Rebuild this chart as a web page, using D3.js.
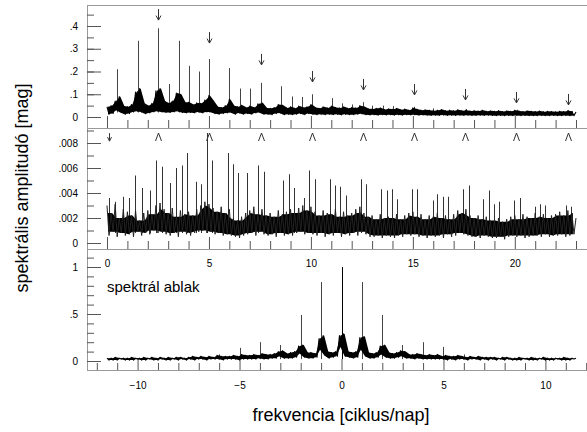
<!doctype html>
<html>
<head>
<meta charset="utf-8">
<script src="https://cdn.jsdelivr.net/npm/d3@7"></script>
<style>
  body { margin: 0; background: #fff; }
  svg text { font-family: "Liberation Sans", Arial, sans-serif; fill: #000; }
</style>
</head>
<body>
<svg id="chart" width="587" height="432"></svg>
<script>
// ---------- data ----------
// top: amplitude spectrum, one value every 0.1 c/d from 0 to 23, in 0.001 mag
var topSpec = [
  45,12,50,15,70,30,90,20,48,12,
  45,15,55,22,110,25,125,22,60,14,
  50,18,60,22,115,25,125,22,70,20,
  60,20,70,22,105,25,100,20,65,18,
  65,20,55,18,62,22,60,18,75,22,
  95,22,70,15,45,12,42,15,50,18,
  78,20,50,12,45,18,52,12,42,15,
  48,12,42,18,58,20,62,12,40,12,
  38,10,42,15,55,18,52,10,40,12,
  45,10,38,12,48,15,42,10,45,15,
  55,12,42,10,38,12,45,10,40,12,
  48,10,42,12,40,9,45,12,38,10,
  42,10,40,12,50,14,45,10,36,9,
  35,10,38,8,40,10,33,9,36,10,
  34,8,38,10,32,8,35,10,30,9,
  40,10,34,8,30,9,32,8,30,7,
  28,8,30,7,33,9,28,7,30,8,
  27,7,32,8,28,7,30,8,26,7,
  28,7,26,8,30,7,25,8,27,7,
  25,6,28,7,24,6,27,7,25,6,
  30,7,26,6,24,7,27,6,25,6,
  24,6,26,7,23,6,25,6,24,7,
  23,6,25,6,24,7,28,6,24,6,22
];
var topPeaks = [
  [0.51,0.21],[1.50,0.335],[2.51,0.39],[3.03,0.145],[3.52,0.335],[4.03,0.225],
  [4.52,0.2],[5.02,0.255],[6.0,0.215],[6.52,0.125],[7.02,0.125],[7.53,0.15],
  [8.52,0.135],[9.05,0.09],[9.54,0.088],[10.04,0.1],[11.05,0.083],[11.54,0.06],
  [12.03,0.055],[12.55,0.065],[13.0,0.05],[13.55,0.05],[14.05,0.048],[15.06,0.045],
  [16.0,0.038],[17.6,0.035],[20.1,0.032],[22.6,0.03]
];
var harmFreq = [2.51,5.02,7.53,10.04,12.55,15.06,17.57,20.08,22.59];
var topArrowTip = [0.426,0.325,0.229,0.154,0.119,0.097,0.075,0.062,0.053];

// middle: residual spectrum, every 0.1 c/d from 0 to 23, in 0.0001 mag
var midSpec = [
  30,6,24,9,31,5,20,8,27,6,
  25,7,22,5,26,9,18,6,24,8,
  26,7,23,10,30,8,32,9,27,7,
  24,6,28,8,21,5,26,9,23,7,
  25,6,22,8,27,9,30,10,33,8,
  31,9,28,7,25,8,29,6,24,7,
  27,6,20,5,18,4,21,6,24,7,
  26,8,29,6,23,9,27,7,22,6,
  24,7,21,5,26,8,23,6,25,7,
  27,6,24,8,28,9,30,7,26,8,
  29,7,25,6,22,8,26,5,24,7,
  23,6,27,8,21,5,25,7,22,6,
  24,8,27,6,29,9,24,7,21,5,
  22,5,19,6,23,4,20,6,21,5,
  20,4,23,6,19,5,22,7,24,6,
  25,7,21,5,23,6,19,4,22,6,
  21,5,24,6,20,4,22,7,19,5,
  23,6,26,8,24,7,27,6,22,5,
  20,5,22,4,19,6,21,5,18,4,
  18,4,20,5,17,3,19,5,21,6,
  22,5,19,6,23,4,21,5,20,6,
  24,6,21,5,23,7,20,5,22,6,
  23,6,25,7,22,5,26,6,24,7,20
];
var midPeaks = [
  [0.1,.0036],[0.4,.0033],[0.8,.0037],[1.1,.0036],[1.37,.0054],[1.7,.0044],[2.1,.0042],
  [2.39,.0066],[2.68,.0061],[3.1,.0048],[3.37,.006],[3.66,.0062],[3.91,.0072],[4.35,.0049],
  [4.6,.0047],[4.89,.0088],[5.16,.0066],[5.92,.0072],[6.2,.0063],[6.4,.0056],[6.88,.0056],
  [7.39,.0062],[7.7,.0057],[8.65,.005],[8.93,.0055],[9.17,.0044],[9.68,.0036],[9.92,.0058],
  [10.2,.0051],[10.94,.0051],[11.18,.0046],[11.43,.0045],[11.7,.0038],[12.44,.0051],
  [12.7,.0047],[13.42,.0043],[13.71,.0042],[13.96,.0043],[14.2,.0035],[14.94,.0043],
  [15.22,.0043],[15.97,.0034],[16.2,.0039],[16.46,.0037],[16.74,.0037],[17.44,.0043],
  [17.74,.0046],[18.46,.0035],[18.73,.0042],[19.0,.0031],[19.24,.0033],[19.97,.0034],
  [20.25,.0036],[20.99,.0029],[21.24,.0031],[21.5,.003],[22.51,.003],[22.76,.0029]
];
var midArrowFreq = [0.12];

// bottom: spectral window, every 0.1 c/d from -11.5 to 11.5, in 0.01
var winSpec = [
  3,1,3,1,4,1,3,2,3,1,
  3,1,4,1,3,2,3,1,4,1,
  3,2,4,1,3,1,4,2,3,1,
  4,1,3,2,4,1,4,2,3,1,
  4,2,5,1,4,2,5,2,4,1,
  5,2,4,2,6,2,5,1,5,2,
  5,2,6,2,5,1,7,2,6,2,
  6,2,7,2,6,3,8,2,7,2,
  7,3,8,3,10,5,11,3,8,3,
  9,3,10,4,16,8,17,4,9,3,
  9,3,8,4,24,12,27,6,10,3,
  9,4,10,5,27,15,29,5,10,4,
  9,3,10,4,25,12,26,5,9,3,
  8,3,9,4,16,7,17,4,9,3,
  8,3,9,4,11,5,10,3,7,3,
  7,2,8,3,7,2,6,2,7,2,
  6,2,7,2,5,2,6,1,5,2,
  5,1,6,2,5,2,4,1,5,2,
  4,2,5,1,4,2,4,1,4,2,
  4,1,3,2,4,1,4,2,3,1,
  3,1,4,1,3,2,3,1,4,1,
  3,1,3,2,4,1,3,1,3,1,
  3,2,3,1,4,1,3,1,3,2,3
];
var winPeaks = [
  [0,1.0],[-1,.84],[1,.84],[-2,.49],[2,.49],[-3.03,.17],[2.98,.17],
  [-4.02,.2],[4.0,.2],[-5.0,.14],[5.0,.15],[-6,.07],[6,.07]
];

// tick values
var topMajor = [0,.1,.2,.3,.4], topMinor = [0,.05,.1,.15,.2,.25,.3,.35,.4,.45];
var midMajor = [0,.002,.004,.006,.008], midMinor = [0,.001,.002,.003,.004,.005,.006,.007,.008,.009];
var winMajor = [0,.5,1], winMinor = [0,.1,.2,.3,.4,.5,.6,.7,.8,.9,1,1.1];
var freqMajor = [0,5,10,15,20];
var freqMinor = [1,2,3,4,6,7,8,9,11,12,13,14,16,17,18,19,21,22,23];
var winFreqMajor = [-10,-5,0,5,10];
var winFreqMinor = [-12,-11,-9,-8,-7,-6,-4,-3,-2,-1,1,2,3,4,6,7,8,9,11,12];

// ---------- layout ----------
var svg = d3.select("#chart");
var left = 87, right = 590;
var yTopB = 128, yMidB = 249, yBotB = 370;

var xF = d3.scaleLinear().domain([0, 23]).range([107, 576]);
var xW = d3.scaleLinear().domain([-11.5, 11.5]).range([107, 576]);
var yT = d3.scaleLinear().domain([0, 0.4]).range([117, 26]);
var yM = d3.scaleLinear().domain([0, 0.008]).range([243, 143]);
var yW = d3.scaleLinear().domain([0, 1]).range([361, 267]);

var fmt = function(d) { return d === 0 ? "0" : String(+d.toFixed(3)).replace(/^0\./, "."); };

// frame
var frame = svg.append("g").attr("stroke", "#999").attr("stroke-width", 1).attr("shape-rendering", "crispEdges");
frame.append("line").attr("x1", left).attr("x2", left).attr("y1", 5).attr("y2", yBotB);
[5, yTopB, yMidB, yBotB].forEach(function(y) {
  frame.append("line").attr("x1", left).attr("x2", right).attr("y1", y).attr("y2", y);
});

// y axes
function yAxis(scale, major, minor) {
  var g = svg.append("g").attr("transform", "translate(" + left + ",0)");
  g.append("g").call(d3.axisLeft(scale).tickValues(minor).tickSize(-7).tickFormat(""));
  g.append("g").call(d3.axisLeft(scale).tickValues(major).tickSize(-14).tickPadding(9).tickFormat(fmt));
  g.selectAll(".domain").remove();
  g.attr("font-size", 14).attr("color", "#555");
  g.selectAll("text").style("fill", "#000");
}
yAxis(yT, topMajor, topMinor);
yAxis(yM, midMajor, midMinor);
yAxis(yW, winMajor, winMinor);

// x axes
function xAxis(scale, y, major, minor, labels, majSize, minSize, pad) {
  var g = svg.append("g").attr("transform", "translate(0," + y + ")");
  g.append("g").call(d3.axisBottom(scale).tickValues(minor).tickSize(-minSize).tickFormat(""));
  g.append("g").call(d3.axisBottom(scale).tickValues(major).tickSize(-majSize).tickPadding(pad)
    .tickFormat(labels ? d3.format("d") : ""));
  g.selectAll(".domain").remove();
  g.attr("font-size", 14).attr("color", "#555");
  g.selectAll("text").style("fill", "#000");
}
xAxis(xF, yTopB, freqMajor, freqMinor, false, 12, 8, 0);
xAxis(xF, yMidB, freqMajor, freqMinor, true, 12, 8, 11);
xAxis(xW, yBotB, winFreqMajor, winFreqMinor, true, 11, 7, 12);

// peaks go under the noise band
function peaks(data, x, y, base, color) {
  svg.append("g").selectAll("line").data(data).enter().append("line")
    .attr("x1", function(d) { return Math.round(x(d[0])) + 0.5; })
    .attr("x2", function(d) { return Math.round(x(d[0])) + 0.5; })
    .attr("y1", y(base))
    .attr("y2", function(d) { return y(d[1]); })
    .attr("stroke", color)
    .attr("stroke-width", 1);
}

// spectra: a dark core between neighbouring samples, the trace drawn over it.
// thin = only where neighbouring pairs overlap (leaves the hairy edge of the residuals)
function spectrum(data, x, x0, y, unit, thin) {
  var pairs = d3.range(0, data.length - 1, 2).map(function(i) {
    return { f: x0 + i * 0.1 + 0.05, lo: Math.min(data[i], data[i + 1]), hi: Math.max(data[i], data[i + 1]) };
  });
  var core = !thin ? pairs : pairs.map(function(p, j) {
    var nb = pairs.slice(Math.max(0, j - 1), j + 2);
    var top = d3.min(nb, function(q) { return q.hi; });
    var bot = d3.max(nb, function(q) { return q.lo; });
    return { f: p.f, lo: Math.min(bot, top), hi: top };
  });
  var area = d3.area()
    .x(function(d) { return x(d.f); })
    .y0(function(d) { return y(d.lo * unit); })
    .y1(function(d) { return y(d.hi * unit); });
  svg.append("path").datum(core).attr("d", area).attr("fill", "#000");

  var line = d3.line()
    .x(function(d, i) { return x(x0 + i * 0.1); })
    .y(function(d) { return y(d * unit); });
  svg.append("path").datum(data)
    .attr("d", line)
    .attr("fill", "none")
    .attr("stroke", thin ? "#222" : "#000")
    .attr("stroke-width", thin ? 1 : 1.1)
    .attr("stroke-linejoin", "round");
}

peaks(topPeaks, xF, yT, 0.02, "#444");
spectrum(topSpec, xF, 0, yT, 0.001, false);
peaks(midPeaks, xF, yM, 0.0008, "#333");
spectrum(midSpec, xF, 0, yM, 0.0001, true);
peaks(winPeaks.slice(1), xW, yW, 0.02, "#444");
peaks(winPeaks.slice(0, 1), xW, yW, 0.02, "#000");
spectrum(winSpec, xW, -11.5, yW, 0.01, false);

// harmonic markers
var mk = svg.append("g").attr("fill", "none").attr("stroke", "#333").attr("stroke-width", 1);
mk.selectAll("path.arr").data(harmFreq).enter().append("path").attr("class", "arr")
  .attr("d", function(f, i) {
    var x = Math.round(xF(f)) + 0.5, y = yT(topArrowTip[i]);
    return "M" + x + "," + (y - 11) + "L" + x + "," + y +
      "M" + (x - 2.5) + "," + (y - 4.5) + "L" + x + "," + y + "L" + (x + 2.5) + "," + (y - 4.5);
  });
mk.selectAll("path.car").data(harmFreq).enter().append("path").attr("class", "car")
  .attr("d", function(f) {
    var x = Math.round(xF(f)) + 0.5, y = yM(0.0088);
    return "M" + (x - 3) + "," + (y + 8) + "L" + x + "," + y + "L" + (x + 3) + "," + (y + 8);
  });
mk.selectAll("path.down").data(midArrowFreq).enter().append("path").attr("class", "down")
  .attr("d", function(f) {
    var x = Math.round(xF(f)) + 0.5, y = yM(0.00815);
    return "M" + x + "," + (y - 8) + "L" + x + "," + y +
      "M" + (x - 2) + "," + (y - 4) + "L" + x + "," + y + "L" + (x + 2) + "," + (y - 4);
  });

// labels
svg.append("text").attr("x", 107).attr("y", 292).attr("font-size", 15).text("spektrál ablak");
svg.append("text").attr("x", 341).attr("y", 421).attr("text-anchor", "middle").attr("font-size", 18)
  .text("frekvencia [ciklus/nap]");
svg.append("text").attr("transform", "translate(28,188) rotate(-90)").attr("text-anchor", "middle")
  .attr("font-size", 18).text("spektrális amplitudó [mag]");
</script>
</body>
</html>
